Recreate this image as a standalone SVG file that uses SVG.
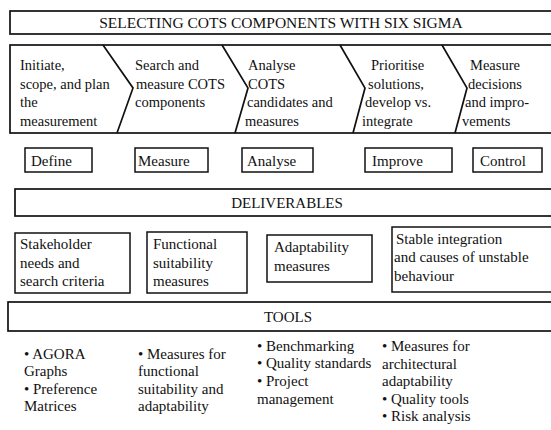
<svg xmlns="http://www.w3.org/2000/svg" width="551" height="430" viewBox="0 0 551 430">
  <style>
    .frame { fill: #fff; stroke: #111; stroke-width: 1.7; }
    .box { fill: #fff; stroke: #111; stroke-width: 1.5; }
    .div { fill: none; stroke: #111; stroke-width: 1.7; stroke-linejoin: miter; }
    text { font-family: "Liberation Serif", "Times New Roman", serif; fill: #111; }
    .head { font-size: 15.5px; }
    .step { font-size: 14.5px; }
    .lbl { font-size: 15px; }
  </style>
  <rect width="551" height="430" fill="#fff"/>

  <!-- Title banner -->
  <g id="title">
    <rect class="frame" x="10" y="11" width="560" height="23"/>
    <text class="head" x="281" y="28" text-anchor="middle">SELECTING COTS COMPONENTS WITH SIX SIGMA</text>
  </g>

  <!-- Process chevron band -->
  <g id="process-band">
    <rect class="frame" x="10" y="45" width="560" height="88"/>
  </g>
  <g id="connectors">
    <polyline class="div" points="103,45 133,88 117,133"/>
    <polyline class="div" points="222,45 248,88 235,133"/>
    <polyline class="div" points="340,45 365,88 353,133"/>
    <polyline class="div" points="442,45 467,88 455,133"/>
  </g>
  <g id="step-initiate" class="step">
    <text x="20" y="70">Initiate,</text>
    <text x="20" y="88.5">scope, and plan</text>
    <text x="20" y="107">the</text>
    <text x="20" y="125.5">measurement</text>
  </g>
  <g id="step-search" class="step">
    <text x="135" y="70">Search and</text>
    <text x="136" y="88.5">measure COTS</text>
    <text x="135" y="107">components</text>
  </g>
  <g id="step-analyse" class="step">
    <text x="248" y="70">Analyse</text>
    <text x="248" y="88.5">COTS</text>
    <text x="247" y="107">candidates and</text>
    <text x="245" y="125.5">measures</text>
  </g>
  <g id="step-prioritise" class="step">
    <text x="371" y="70">Prioritise</text>
    <text x="368" y="88.5">solutions,</text>
    <text x="365" y="107">develop vs.</text>
    <text x="362" y="125.5">integrate</text>
  </g>
  <g id="step-measure" class="step">
    <text x="470" y="70">Measure</text>
    <text x="468" y="88.5">decisions</text>
    <text x="465" y="107">and impro-</text>
    <text x="462" y="125.5">vements</text>
  </g>

  <!-- DMAIC phases -->
  <g id="phase-define">
    <rect class="box" x="25" y="148" width="67" height="24"/>
    <text class="lbl" x="31" y="166">Define</text>
  </g>
  <g id="phase-measure">
    <rect class="box" x="135" y="148" width="73" height="24"/>
    <text class="lbl" x="138" y="166">Measure</text>
  </g>
  <g id="phase-analyse">
    <rect class="box" x="242" y="148" width="71" height="24"/>
    <text class="lbl" x="247" y="166">Analyse</text>
  </g>
  <g id="phase-improve">
    <rect class="box" x="365" y="148" width="87" height="24"/>
    <text class="lbl" x="372" y="166">Improve</text>
  </g>
  <g id="phase-control">
    <rect class="box" x="473" y="148" width="69" height="24"/>
    <text class="lbl" x="480" y="166">Control</text>
  </g>

  <!-- Deliverables -->
  <g id="deliverables">
    <rect class="frame" x="15" y="189" width="560" height="27"/>
    <text class="lbl" x="287" y="208" text-anchor="middle">DELIVERABLES</text>
  </g>
  <g id="deliv-stakeholder">
    <rect class="box" x="15" y="233" width="115" height="60"/>
    <text class="lbl" x="20" y="249">Stakeholder</text>
    <text class="lbl" x="20" y="268">needs and</text>
    <text class="lbl" x="20" y="286">search criteria</text>
  </g>
  <g id="deliv-functional">
    <rect class="box" x="147" y="232" width="100" height="61"/>
    <text class="lbl" x="153" y="249">Functional</text>
    <text class="lbl" x="153" y="268">suitability</text>
    <text class="lbl" x="153" y="286">measures</text>
  </g>
  <g id="deliv-adaptability">
    <rect class="box" x="267" y="235" width="105" height="47"/>
    <text class="lbl" x="274" y="252">Adaptability</text>
    <text class="lbl" x="274" y="271">measures</text>
  </g>
  <g id="deliv-stable">
    <rect class="box" x="392" y="227" width="170" height="65"/>
    <text class="lbl" x="396" y="244">Stable integration</text>
    <text class="lbl" x="394" y="262">and causes of unstable</text>
    <text class="lbl" x="394" y="281">behaviour</text>
  </g>

  <!-- Tools -->
  <g id="tools">
    <rect class="frame" x="8" y="302" width="560" height="29"/>
    <text class="lbl" x="288" y="322" text-anchor="middle">TOOLS</text>
  </g>
  <g id="tools-define" class="lbl">
    <text x="24" y="359">• AGORA</text>
    <text x="24" y="376">Graphs</text>
    <text x="24" y="394">• Preference</text>
    <text x="24" y="411">Matrices</text>
  </g>
  <g id="tools-measure" class="lbl">
    <text x="138" y="359">• Measures for</text>
    <text x="138" y="376">functional</text>
    <text x="138" y="394">suitability and</text>
    <text x="138" y="411">adaptability</text>
  </g>
  <g id="tools-analyse" class="lbl">
    <text x="257" y="351">• Benchmarking</text>
    <text x="257" y="368">• Quality standards</text>
    <text x="257" y="386">• Project</text>
    <text x="257" y="404">management</text>
  </g>
  <g id="tools-improve" class="lbl">
    <text x="382" y="351">• Measures for</text>
    <text x="382" y="369">architectural</text>
    <text x="382" y="386">adaptability</text>
    <text x="382" y="404">• Quality tools</text>
    <text x="382" y="421">• Risk analysis</text>
  </g>
</svg>
